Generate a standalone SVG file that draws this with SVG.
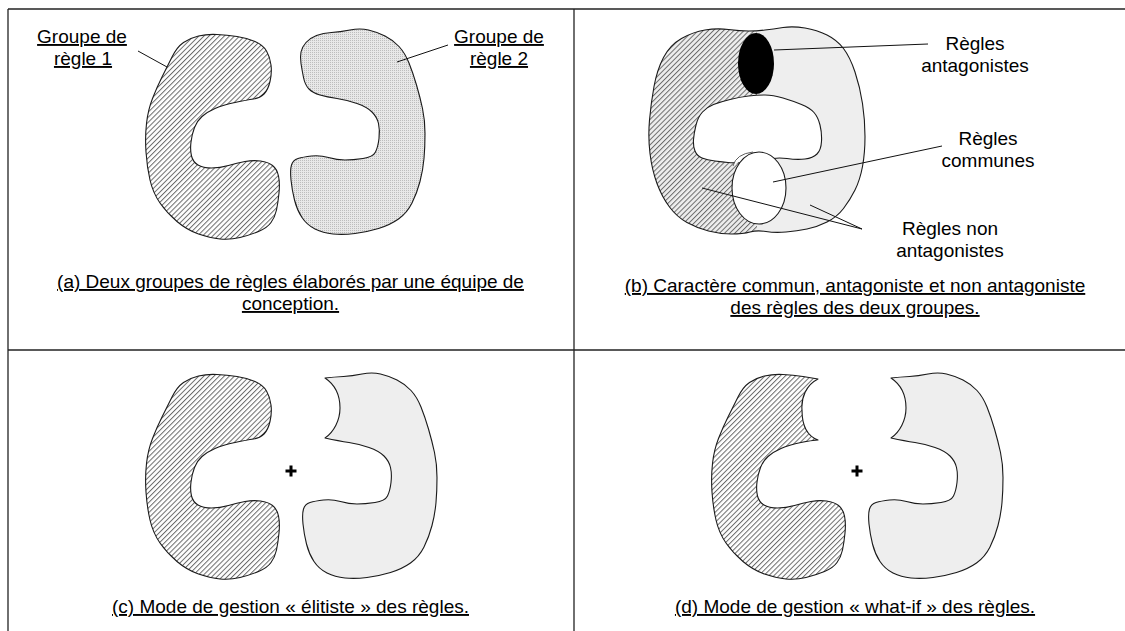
<svg xmlns="http://www.w3.org/2000/svg" xmlns:xlink="http://www.w3.org/1999/xlink" width="1125" height="631" viewBox="0 0 1125 631">
<style>
.frame{stroke:#222;stroke-width:1.3;fill:none}
.outline{stroke:#1a1a1a;stroke-width:1.1;stroke-linejoin:round}
.lead{stroke:#111;stroke-width:1;fill:none}
text{font-family:"Liberation Sans",Arial,sans-serif;font-size:19px;fill:#000}
.c{text-anchor:middle}
.u{text-decoration:underline}
</style>
<defs>
<pattern id="hatch" patternUnits="userSpaceOnUse" width="3.6" height="3.6" patternTransform="rotate(45)">
<rect x="0" y="0" width="1" height="3.6" fill="#6a6a6a"/>
</pattern>
<pattern id="dots" patternUnits="userSpaceOnUse" width="2" height="2">
<rect x="0" y="0" width="2" height="2" fill="#e8e8e8"/>
<rect x="0" y="0" width="1" height="1" fill="#bdbdbd"/>
</pattern>
<path id="shapeL" d="M198.5,36 Q207,34 217,34.5 Q227,35 237,36.5 Q247,38 255,41.5 Q263,45 266.5,51 Q270,57 271,65 Q272,73 270,81.5 Q268,90 264,94 Q260,98 253.5,99 Q247,100 235,102.5 Q223,105 215,108.5 Q207,112 202,116.5 Q197,121 194.5,127.5 Q192,134 191,142 Q190,150 191.5,156 Q193,162 198,165 Q203,168 211.5,168 Q220,168 228.5,165.5 Q237,163 245,161.5 Q253,160 260.5,161 Q268,162 272.5,165.5 Q277,169 278.5,176 Q280,183 279,193 Q278,203 276.5,210 Q275,217 271,222.5 Q267,228 258.5,231.5 Q250,235 240,237.5 Q230,240 220,239 Q210,238 198.5,234 Q187,230 177,221.5 Q167,213 160,203 Q153,193 150,180 Q147,167 146,152 Q145,137 146.5,123.5 Q148,110 152.5,98.5 Q157,87 162,77 Q167,67 172,57 Q177,47 183.5,42.5 Q190,38 198.5,36 Z"/>
<path id="shapeLbite" d="M198.5,36 Q207,34 217,34.5 Q227,35 237,36.5 Q246,38 252,39 C240,45 235,58 236,70 C236,85 241,96 252,100 Q245,100.5 235,102.5 Q223,105 215,108.5 Q207,112 202,116.5 Q197,121 194.5,127.5 Q192,134 191,142 Q190,150 191.5,156 Q193,162 198,165 Q203,168 211.5,168 Q220,168 228.5,165.5 Q237,163 245,161.5 Q253,160 260.5,161 Q268,162 272.5,165.5 Q277,169 278.5,176 Q280,183 279,193 Q278,203 276.5,210 Q275,217 271,222.5 Q267,228 258.5,231.5 Q250,235 240,237.5 Q230,240 220,239 Q210,238 198.5,234 Q187,230 177,221.5 Q167,213 160,203 Q153,193 150,180 Q147,167 146,152 Q145,137 146.5,123.5 Q148,110 152.5,98.5 Q157,87 162,77 Q167,67 172,57 Q177,47 183.5,42.5 Q190,38 198.5,36 Z"/>
<path id="shapeR" d="M331.5,32.5 Q340,32 350,30 Q360,28 368.5,30 Q377,32 385,36 Q393,40 399,46.5 Q405,53 409,63 Q413,73 416.5,85 Q420,97 422.5,108.5 Q425,120 425,133.5 Q425,147 424,158.5 Q423,170 420,181.5 Q417,193 412,203 Q407,213 398.5,219 Q390,225 378.5,228.5 Q367,232 355,233.5 Q343,235 333,234 Q323,233 315,229 Q307,225 302,217.5 Q297,210 294.5,200 Q292,190 291,180 Q290,170 291.5,165 Q293,160 298,158.5 Q303,157 311.5,156 Q320,155 328.5,157.5 Q337,160 345,160 Q353,160 363,158.5 Q373,157 375.5,152 Q378,147 379,138.5 Q380,130 378.5,123.5 Q377,117 372,112 Q367,107 357,103.5 Q347,100 337,98.5 Q327,97 320,95 Q313,93 309,89 Q305,85 303.5,77.5 Q302,70 301,63.5 Q300,57 301,52 Q302,47 306,42.5 Q310,38 316.5,35.5 Q323,33 331.5,32.5 Z"/>
<path id="shapeRbite" d="M313,34 Q322,33 331.5,32.5 Q340,32 350,30 Q360,28 368.5,30 Q377,32 385,36 Q393,40 399,46.5 Q405,53 409,63 Q413,73 416.5,85 Q420,97 422.5,108.5 Q425,120 425,133.5 Q425,147 424,158.5 Q423,170 420,181.5 Q417,193 412,203 Q407,213 398.5,219 Q390,225 378.5,228.5 Q367,232 355,233.5 Q343,235 333,234 Q323,233 315,229 Q307,225 302,217.5 Q297,210 294.5,200 Q292,190 291,180 Q290,170 291.5,165 Q293,160 298,158.5 Q303,157 311.5,156 Q320,155 328.5,157.5 Q337,160 345,160 Q353,160 363,158.5 Q373,157 375.5,152 Q378,147 379,138.5 Q380,130 378.5,123.5 Q377,117 372,112 Q367,107 357,103.5 Q347,100 337,98.5 Q327,97 313,94 C322,88 328,76 328,64 C328,50 322,40 313,34 Z"/>
<path id="outerB" d="M748.5,31 Q757,31 765,30 Q773,29 783,27.5 Q793,26 805,28 Q817,30 827,35 Q837,40 843.5,48.5 Q850,57 855,72 Q860,87 862.5,103.5 Q865,120 865,136.5 Q865,153 862.5,166.5 Q860,180 855,190 Q850,200 843.5,208.5 Q837,217 827,222 Q817,227 807,229 Q797,231 786,232 Q775,233 766,231.5 Q757,230 750,232 Q743,234 731.5,234 Q720,234 708.5,231 Q697,228 687,222.5 Q677,217 669.5,207 Q662,197 657,183.5 Q652,170 650,153.5 Q648,137 649.5,120 Q651,103 654,86.5 Q657,70 663.5,57.5 Q670,45 681.5,38.5 Q693,32 705,30 Q717,28 728.5,29.5 Q740,31 748.5,31 Z"/>
<clipPath id="clipB"><use xlink:href="#outerB"/></clipPath>
</defs>

<g id="frame">
<line class="frame" x1="8" y1="9" x2="1125" y2="9"/>
<line class="frame" x1="8" y1="9" x2="8" y2="631"/>
<line class="frame" x1="574" y1="9" x2="574" y2="631"/>
<line class="frame" x1="8" y1="350" x2="1125" y2="350"/>
</g>

<g id="panel-a">
<g id="a-groupe1"><use xlink:href="#shapeL" class="outline" fill="url(#hatch)"/></g>
<g id="a-groupe2"><use xlink:href="#shapeR" class="outline" fill="url(#dots)"/></g>
<g id="a-label1">
<text class="c u" x="82" y="43">Groupe de</text>
<text class="c u" x="83" y="65">règle 1</text>
</g>
<g id="a-label2">
<text class="c u" x="499" y="43">Groupe de</text>
<text class="c u" x="499" y="65">règle 2</text>
</g>
<g id="a-caption">
<text class="c u" x="290.5" y="288">(a) Deux groupes de règles élaborés par une équipe de</text>
<text class="c u" x="290.5" y="310">conception.</text>
</g>
</g>

<g id="panel-b">
<g id="b-groupes">
<use xlink:href="#outerB" fill="#eeeeee"/>
<g clip-path="url(#clipB)"><rect x="640" y="20" width="117" height="220" fill="url(#hatch)"/></g>
<use xlink:href="#outerB" fill="none" class="outline"/>
<path class="outline" fill="#ffffff" d="M748.5,96 Q757,95 765,95 Q773,95 783,98 Q793,101 801.5,104.5 Q810,108 814,112.5 Q818,117 820,125 Q822,133 821.5,141.5 Q821,150 817,154 Q813,158 805,159 Q797,160 787,158.5 Q777,157 767,159.5 Q757,162 745,162.5 Q733,163 728,162.5 Q723,162 715,161 Q707,160 702,158 Q697,156 695,151 Q693,146 693.5,139.5 Q694,133 696,125 Q698,117 702.5,112 Q707,107 713.5,104.5 Q720,102 730,99.5 Q740,97 748.5,96 Z"/>
</g>
<g id="b-antagonistes"><ellipse cx="756" cy="63.5" rx="18" ry="30.5" fill="#000"/></g>
<g id="b-communes">
<path d="M733,166 Q736,154 753,152" fill="#fff" stroke="#333" stroke-width="0.8"/>
<ellipse cx="759" cy="188" rx="27" ry="36" fill="#fff" stroke="#1a1a1a" stroke-width="1.1"/>
</g>
<g id="b-label-antag">
<text class="c" x="975" y="50">Règles</text>
<text class="c" x="975" y="72">antagonistes</text>
</g>
<g id="b-label-communes">
<text class="c" x="988" y="145">Règles</text>
<text class="c" x="988" y="167">communes</text>
</g>
<g id="b-label-non">
<text class="c" x="950" y="235">Règles non</text>
<text class="c" x="950" y="257">antagonistes</text>
</g>
<g id="b-caption">
<text class="c u" x="855" y="292">(b) Caractère commun, antagoniste et non antagoniste</text>
<text class="c u" x="855" y="314">des règles des deux groupes.</text>
</g>
</g>

<g id="panel-c">
<g id="c-groupe1"><use xlink:href="#shapeL" class="outline" fill="url(#hatch)" transform="translate(0,340)"/></g>
<g id="c-groupe2"><use xlink:href="#shapeRbite" class="outline" fill="#eeeeee" transform="translate(12,344)"/></g>
<g id="c-plus"><path d="M285.5,471 H296.5 M291,465.5 V476.5" stroke="#000" stroke-width="3"/></g>
<g id="c-caption"><text class="c u" x="290.5" y="613">(c) Mode de gestion « élitiste » des règles.</text></g>
</g>

<g id="panel-d">
<g id="d-groupe1"><use xlink:href="#shapeLbite" class="outline" fill="url(#hatch)" transform="translate(566,340)"/></g>
<g id="d-groupe2"><use xlink:href="#shapeRbite" class="outline" fill="#eeeeee" transform="translate(578,344)"/></g>
<g id="d-plus"><path d="M851.5,471 H862.5 M857,465.5 V476.5" stroke="#000" stroke-width="3"/></g>
<g id="d-caption"><text class="c u" x="855" y="613">(d) Mode de gestion « what-if » des règles.</text></g>
</g>

<g id="connectors">
<line class="lead" x1="138" y1="51" x2="167" y2="67"/>
<line class="lead" x1="397" y1="62" x2="448" y2="45"/>
<line class="lead" x1="774" y1="50" x2="928" y2="44"/>
<line class="lead" x1="773" y1="182" x2="942" y2="146"/>
<line class="lead" x1="702" y1="188" x2="862" y2="229"/>
<line class="lead" x1="810" y1="205" x2="862" y2="229"/>
</g>
</svg>
